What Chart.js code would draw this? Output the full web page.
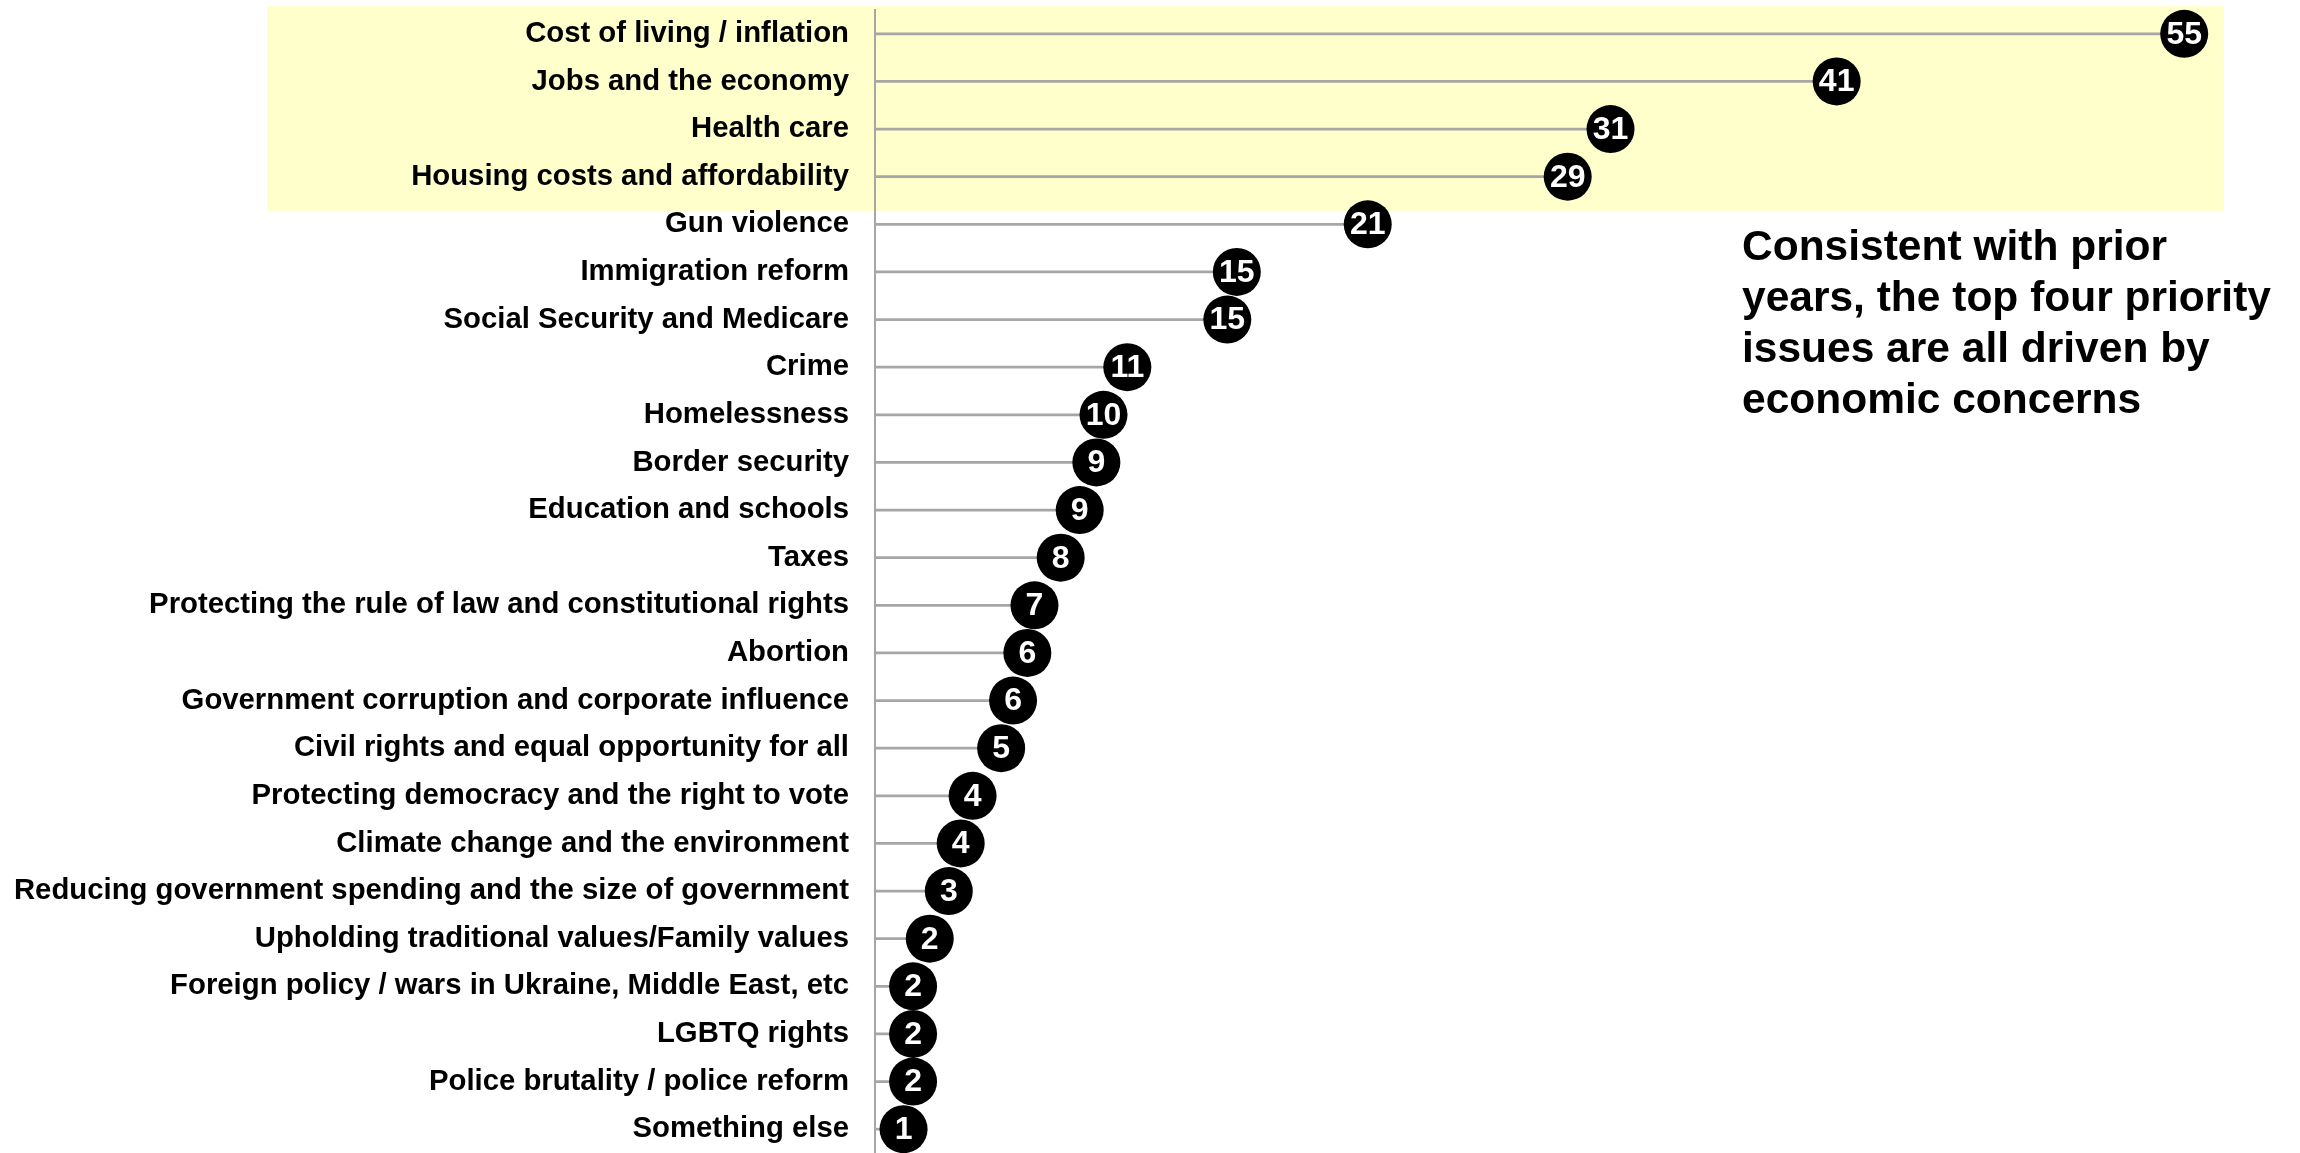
<!DOCTYPE html>
<html>
<head>
<meta charset="utf-8">
<script src="https://cdn.jsdelivr.net/npm/chart.js@4.4.1/dist/chart.umd.min.js"></script>
<style>
  html, body { margin: 0; padding: 0; background: #ffffff; }
  #wrap { position: relative; width: 2300px; height: 1153px; }
</style>
</head>
<body>
<div id="wrap"><canvas id="issues-chart"></canvas></div>
<script>
// Priority issues, in the order shown (top to bottom)
const issues = [
  'Cost of living / inflation',
  'Jobs and the economy',
  'Health care',
  'Housing costs and affordability',
  'Gun violence',
  'Immigration reform',
  'Social Security and Medicare',
  'Crime',
  'Homelessness',
  'Border security',
  'Education and schools',
  'Taxes',
  'Protecting the rule of law and constitutional rights',
  'Abortion',
  'Government corruption and corporate influence',
  'Civil rights and equal opportunity for all',
  'Protecting democracy and the right to vote',
  'Climate change and the environment',
  'Reducing government spending and the size of government',
  'Upholding traditional values/Family values',
  'Foreign policy / wars in Ukraine, Middle East, etc',
  'LGBTQ rights',
  'Police brutality / police reform',
  'Something else'
];

// Dot positions (unrounded)
const shares = [55.0, 40.4, 30.9, 29.1, 20.7, 15.2, 14.8, 10.6, 9.6, 9.3, 8.6, 7.8,
  6.7, 6.4, 5.8, 5.3, 4.1, 3.6, 3.1, 2.3, 1.6, 1.6, 1.6, 1.2];

// Numbers printed inside the dots
const shareLabels = ['55', '41', '31', '29', '21', '15', '15', '11', '10', '9', '9', '8',
  '7', '6', '6', '5', '4', '4', '3', '2', '2', '2', '2', '1'];

// How many of the top rows get the yellow highlight
const highlightCount = 4;

const noteLines = [
  'Consistent with prior',
  'years, the top four priority',
  'issues are all driven by',
  'economic concerns'
];

const FONT = "'Liberation Sans', Arial, Helvetica, sans-serif";
const STEM_GREY = '#a6a6a6';

// Yellow band behind the top issues
const highlightBand = {
  id: 'highlightBand',
  beforeDraw(chart) {
    const ctx = chart.ctx;
    const y = chart.scales.y;
    const step = y.getPixelForValue(1) - y.getPixelForValue(0);
    const top = y.getPixelForValue(0) - step * 0.58;
    const bottom = y.getPixelForValue(highlightCount - 1) + step * 0.72;
    ctx.save();
    ctx.fillStyle = '#ffffcc';
    ctx.fillRect(267, top, 2224 - 267, bottom - top);
    ctx.restore();
  }
};

// White numbers inside the black dots + the side note
const dotLabels = {
  id: 'dotLabels',
  afterDatasetsDraw(chart) {
    const ctx = chart.ctx;
    const meta = chart.getDatasetMeta(1);
    ctx.save();
    ctx.fillStyle = '#ffffff';
    ctx.font = `bold 32px ${FONT}`;
    ctx.textAlign = 'center';
    ctx.textBaseline = 'middle';
    meta.data.forEach((pt, i) => {
      ctx.fillText(shareLabels[i], pt.x, pt.y + 1);
    });

    ctx.fillStyle = '#000000';
    ctx.font = `bold 42.5px ${FONT}`;
    ctx.textAlign = 'left';
    noteLines.forEach((line, i) => {
      ctx.fillText(line, 1742, 248.5 + i * 51);
    });
    ctx.restore();
  }
};

const ctx = document.getElementById('issues-chart').getContext('2d');
new Chart(ctx, {
  data: {
    labels: issues,
    datasets: [
      {
        type: 'bar',
        indexAxis: 'y',
        data: shares,
        backgroundColor: STEM_GREY,
        barThickness: 2,
        borderWidth: 0,
        order: 2
      },
      {
        type: 'line',
        indexAxis: 'y',
        data: shares,
        showLine: false,
        pointStyle: 'circle',
        pointRadius: 24,
        pointHoverRadius: 24,
        pointBackgroundColor: '#000000',
        pointBorderWidth: 0,
        clip: false,
        order: 1
      }
    ]
  },
  options: {
    indexAxis: 'y',
    responsive: true,
    maintainAspectRatio: false,
    animation: false,
    events: [],
    // no auto padding for the big dots, rows use the full height
    layout: { autoPadding: false, padding: { top: 10, bottom: -3, left: 0, right: 92 } },
    scales: {
      x: {
        display: false,
        min: 0,
        max: 56
      },
      y: {
        type: 'category',
        offset: true,
        afterFit(scale) {
          scale.width = 875;
          scale.paddingTop = 0;
          scale.paddingBottom = 0;
        },
        grid: { display: false, drawTicks: false },
        border: { display: true, color: STEM_GREY, width: 2 },
        ticks: {
          autoSkip: false,
          padding: 26,
          color: '#000000',
          font: { family: FONT, size: 29.3, weight: 'bold' }
        }
      }
    },
    plugins: {
      legend: { display: false },
      tooltip: { enabled: false }
    }
  },
  plugins: [highlightBand, dotLabels]
});
</script>
</body>
</html>
